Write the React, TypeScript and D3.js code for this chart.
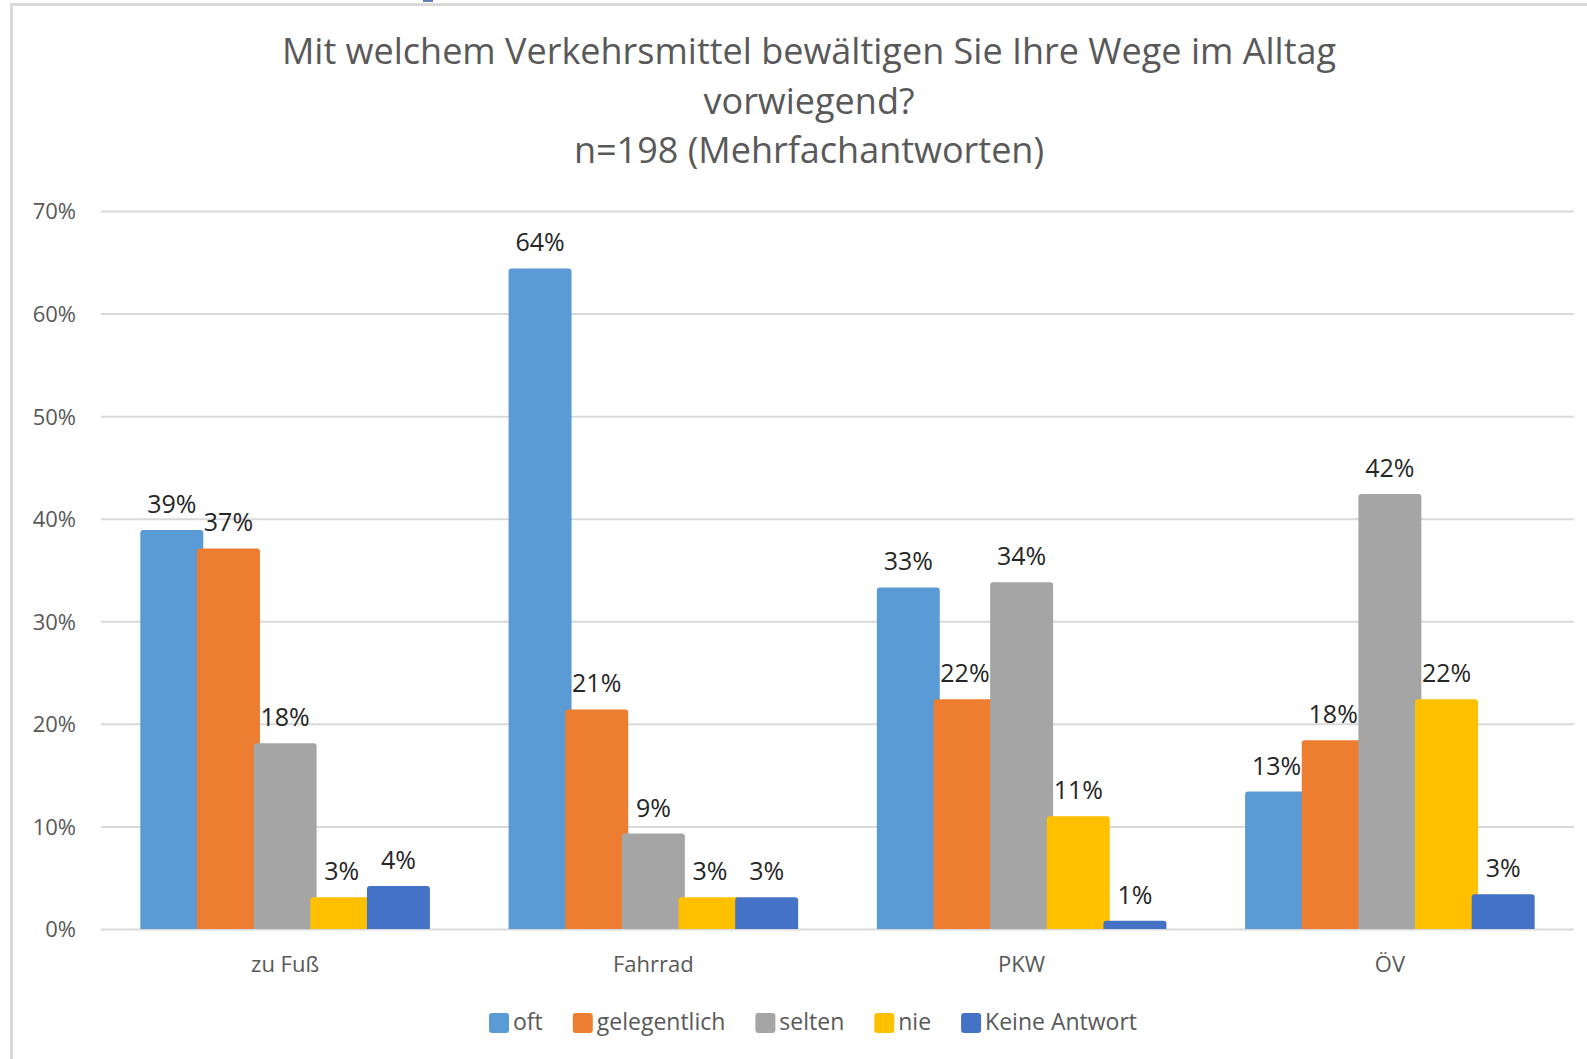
import { useEffect, useRef } from "react"
import * as d3 from "d3"

const categories = ["zu Fuß", "Fahrrad", "PKW", "ÖV"]
const seriesNames = ["oft", "gelegentlich", "selten", "nie", "Keine Antwort"]
const seriesColors = ["#5B9BD5", "#ED7D31", "#A5A5A5", "#FFC000", "#4472C4"]

// one array per category, in series order (percent)
const zuFussValues = [38.9, 37.1, 18.1, 3.1, 4.2]
const fahrradValues = [64.4, 21.4, 9.3, 3.1, 3.1]
const pkwValues = [33.3, 22.4, 33.8, 11.0, 0.8]
const oevValues = [13.4, 18.4, 42.4, 22.4, 3.4]

const yTicks = [0, 10, 20, 30, 40, 50, 60, 70]

const titleLines = [
  "Mit welchem Verkehrsmittel bewältigen Sie Ihre Wege im Alltag",
  "vorwiegend?",
  "n=198 (Mehrfachantworten)",
]

const FONT = "'Open Sans', 'Noto Sans', sans-serif"

type Bar = { category: string; series: number; value: number }

export default function App() {
  const svgRef = useRef<SVGSVGElement | null>(null)

  useEffect(() => {
    if (!svgRef.current) return
    const svg = d3.select(svgRef.current)
    svg.selectAll("*").remove()

    const width = 1587
    const height = 1059
    const plot = { left: 101, right: 1574, top: 211, bottom: 929 }

    svg.attr("width", width).attr("height", height).attr("viewBox", `0 0 ${width} ${height}`)

    svg.append("rect").attr("width", width).attr("height", height).attr("fill", "#fff")

    // chart frame (cut off at right and bottom)
    svg
      .append("rect")
      .attr("x", 11.5)
      .attr("y", 4.5)
      .attr("width", 2000)
      .attr("height", 2000)
      .attr("fill", "none")
      .attr("stroke", "#d9d9d9")
      .attr("stroke-width", 3)

    svg.append("rect").attr("x", 423).attr("y", 0).attr("width", 10).attr("height", 2).attr("fill", "#5b7fb8")

    // title
    svg
      .append("g")
      .selectAll("text")
      .data(titleLines)
      .join("text")
      .text((d) => d)
      .attr("x", 809)
      .attr("y", (_, i) => 64 + i * 49.6)
      .attr("text-anchor", "middle")
      .attr("font-family", FONT)
      .attr("font-size", 36)
      .attr("fill", "#595959")

    const x0 = d3.scaleBand<string>().domain(categories).range([plot.left, plot.right])
    const y = d3.scaleLinear().domain([0, 70]).range([plot.bottom, plot.top])

    // gridlines
    svg
      .append("g")
      .attr("transform", `translate(${plot.left},0)`)
      .call(d3.axisLeft(y).tickValues(yTicks).tickSize(-(plot.right - plot.left)).tickFormat(() => ""))
      .call((g) => g.select(".domain").remove())
      .call((g) => g.selectAll("line").attr("stroke", "#d9d9d9").attr("stroke-width", 2))

    // y tick labels
    svg
      .append("g")
      .attr("transform", `translate(${plot.left},0)`)
      .call(d3.axisLeft(y).tickValues(yTicks).tickSize(0).tickPadding(25).tickFormat((d) => `${d}%`))
      .call((g) => g.select(".domain").remove())
      .call((g) =>
        g
          .selectAll("text")
          .attr("font-family", FONT)
          .attr("font-size", 22)
          .attr("fill", "#595959")
          .attr("dy", "0.36em")
      )

    // x labels
    svg
      .append("g")
      .attr("transform", `translate(0,${plot.bottom})`)
      .call(d3.axisBottom(x0).tickSize(0))
      .call((g) => g.select(".domain").remove())
      .call((g) =>
        g
          .selectAll("text")
          .attr("y", 43)
          .attr("dy", null)
          .attr("font-family", FONT)
          .attr("font-size", 22)
          .attr("fill", "#595959")
      )

    const valuesByCategory = [zuFussValues, fahrradValues, pkwValues, oevValues]
    const bars: Bar[] = []
    seriesNames.forEach((_, s) => {
      categories.forEach((c, ci) => bars.push({ category: c, series: s, value: valuesByCategory[ci][s] }))
    })

    const n = seriesNames.length
    const overlap = 0.1
    const gapWidth = 1.25
    const barW = x0.bandwidth() / (n - (n - 1) * overlap + gapWidth)
    const stride = barW * (1 - overlap)
    const barX = (b: Bar) => (x0(b.category) ?? 0) + (gapWidth * barW) / 2 + b.series * stride

    const r = 3
    const barPath = (b: Bar) => {
      const x = barX(b)
      const top = y(b.value)
      const bot = y(0)
      const rr = Math.min(r, (bot - top) / 2)
      return `M${x},${bot}V${top + rr}Q${x},${top} ${x + rr},${top}H${x + barW - rr}Q${x + barW},${top} ${x + barW},${top + rr}V${bot}Z`
    }

    svg
      .append("g")
      .selectAll("path")
      .data(bars)
      .join("path")
      .attr("d", barPath)
      .attr("fill", (d) => seriesColors[d.series])

    svg
      .append("g")
      .selectAll("text")
      .data(bars)
      .join("text")
      .text((d) => `${Math.round(d.value)}%`)
      .attr("x", (d) => barX(d) + barW / 2)
      .attr("y", (d) => y(d.value) - 17)
      .attr("text-anchor", "middle")
      .attr("font-family", FONT)
      .attr("font-size", 25)
      .attr("fill", "#262626")

    // legend
    const legend = svg.append("g")
    const items = legend
      .selectAll("g")
      .data(seriesNames)
      .join("g")
    items
      .append("rect")
      .attr("width", 20)
      .attr("height", 20)
      .attr("rx", 3)
      .attr("y", 1013)
      .attr("fill", (_, i) => seriesColors[i])
    items
      .append("text")
      .text((d) => d)
      .attr("x", 24)
      .attr("y", 1030)
      .attr("font-family", FONT)
      .attr("font-size", 23)
      .attr("fill", "#595959")

    const widths: number[] = []
    items.selectAll<SVGTextElement, string>("text").each(function () {
      widths.push(24 + this.getComputedTextLength())
    })
    const gap = 30
    const total = d3.sum(widths) + gap * (widths.length - 1)
    let cursor = 813 - total / 2
    items.attr("transform", (_, i) => {
      const t = `translate(${cursor},0)`
      cursor += widths[i] + gap
      return t
    })
  }, [])

  return <svg ref={svgRef} style={{ position: "absolute", left: 0, top: 0, display: "block" }} />
}
